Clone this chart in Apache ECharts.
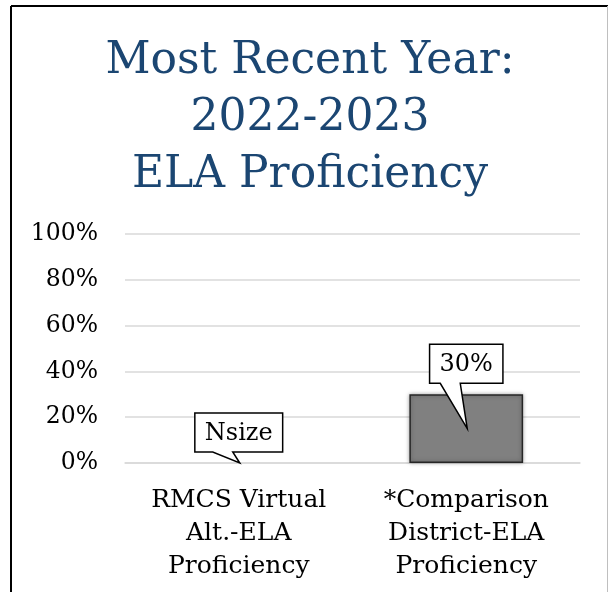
<!DOCTYPE html>
<html>
<head>
<meta charset="utf-8">
<script src="https://cdn.jsdelivr.net/npm/echarts@6/dist/echarts.min.js"></script>
<style>
  html, body { margin: 0; padding: 0; background: #fff; }
  #chart { width: 609px; height: 592px; }
</style>
</head>
<body>
<div id="chart"></div>
<script>
// data
const categories = [
  "RMCS Virtual\nAlt.-ELA\nProficiency",
  "*Comparison\nDistrict-ELA\nProficiency",
];
const values = [null, 30]; // first one is suppressed (Nsize)
const calloutLabels = ["Nsize", "30%"];
const yTicks = [0, 20, 40, 60, 80, 100];

const FONT = '"DejaVu Serif", serif';
const CALLOUT_SIZE = 24;

// text width helper for the callout boxes
const measureCtx = document.createElement("canvas").getContext("2d");
function textWidth(t, size) {
  measureCtx.font = size + "px " + FONT;
  return measureCtx.measureText(t).width;
}

// callout box with a pointer, drawn from the axis scale
function renderCallout(params, api) {
  const idx = api.value(0);
  const v = api.value(1);
  const text = calloutLabels[params.dataIndex];
  const top = api.coord([idx, v]);
  const tip = api.coord([idx, v / 2]);
  const w = textWidth(text, CALLOUT_SIZE) + 20;
  const h = 39;
  const cx = tip[0];
  const by = top[1] - 11;
  const ty = by - h;
  return {
    type: "group",
    children: [
      {
        type: "polygon",
        shape: {
          points: [
            [cx - w / 2, ty],
            [cx + w / 2, ty],
            [cx + w / 2, by],
            [cx - 6, by],
            [cx + 1, tip[1]],
            [cx - 26, by],
            [cx - w / 2, by],
          ],
        },
        style: { fill: "#fff", stroke: "#000", lineWidth: 1.5 },
      },
      {
        type: "text",
        style: {
          text: text,
          x: cx,
          y: (ty + by) / 2 + 1,
          align: "center",
          verticalAlign: "middle",
          fontSize: CALLOUT_SIZE,
          fontFamily: FONT,
          fill: "#000",
        },
      },
    ],
  };
}

const chart = echarts.init(document.getElementById("chart"));
chart.setOption({
  animation: false,
  title: {
    text: "Most Recent Year:\n2022-2023\nELA Proficiency",
    left: 305,
    top: 28,
    textAlign: "center",
    textStyle: {
      fontFamily: FONT,
      fontWeight: "normal",
      fontSize: 44,
      lineHeight: 57,
      color: "#1b4672",
    },
  },
  graphic: [
    { type: "line", shape: { x1: 11, y1: 6, x2: 608, y2: 6 }, style: { stroke: "#000", lineWidth: 2 } },
    { type: "line", shape: { x1: 11, y1: 6, x2: 11, y2: 592 }, style: { stroke: "#000", lineWidth: 2 } },
    { type: "line", shape: { x1: 607.5, y1: 6, x2: 607.5, y2: 592 }, style: { stroke: "#bfbfbf", lineWidth: 1 } },
  ],
  grid: {
    top: 234,
    left: 125,
    right: 29,
    bottom: 129,
  },
  xAxis: {
    type: "category",
    data: categories,
    axisLine: { lineStyle: { color: "#d9d9d9", width: 1.5 } },
    axisTick: { show: false },
    axisLabel: {
      interval: 0,
      margin: 21,
      color: "#000",
      fontFamily: FONT,
      fontSize: 25,
      lineHeight: 33,
    },
  },
  yAxis: {
    type: "value",
    min: yTicks[0],
    max: yTicks[yTicks.length - 1],
    interval: yTicks[1] - yTicks[0],
    axisLine: { show: false },
    axisTick: { show: false },
    splitLine: { lineStyle: { color: "#d9d9d9", width: 1.5 } },
    axisLabel: {
      formatter: "{value}%",
      margin: 27,
      color: "#000",
      fontFamily: FONT,
      fontSize: 23.5,
    },
  },
  series: [
    {
      type: "bar",
      data: values,
      barWidth: "50%",
      itemStyle: {
        color: "#808080",
        borderColor: "#262626",
        borderWidth: 1.5,
        shadowBlur: 4,
        shadowColor: "rgba(0,0,0,0.35)",
      },
    },
    {
      type: "custom",
      z: 5,
      renderItem: renderCallout,
      data: values.map((v, i) => [i, v == null ? 0 : v]),
    },
  ],
});
</script>
</body>
</html>
